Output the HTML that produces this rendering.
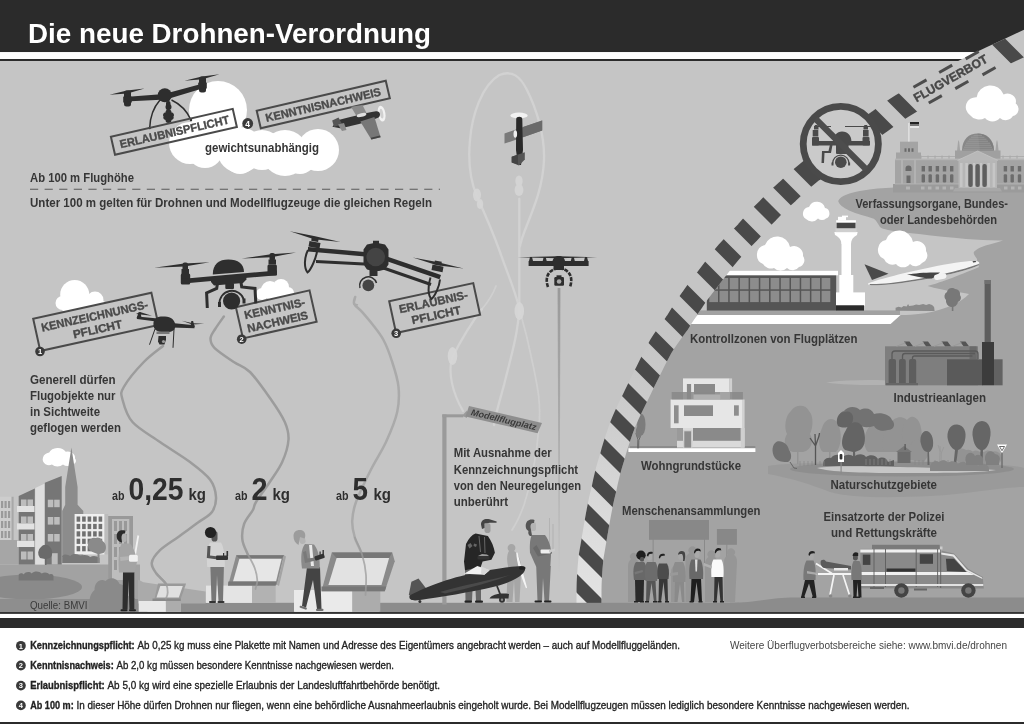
<!DOCTYPE html>
<html lang="de">
<head>
<meta charset="utf-8">
<title>Die neue Drohnen-Verordnung</title>
<style>
html,body{margin:0;padding:0;background:#fff;}
body{width:1024px;height:724px;overflow:hidden;font-family:"Liberation Sans",sans-serif;}
svg{display:block;filter:grayscale(1);}
text{font-family:"Liberation Sans",sans-serif;}
.b{font-weight:bold;}
.lbl{font-weight:bold;font-size:12.5px;fill:#363636;}
.stamp{font-weight:bold;font-size:11.5px;fill:#4a4a4a;stroke:#4a4a4a;stroke-width:0.35px;}
.ft{font-size:10.5px;fill:#222;stroke:#222;stroke-width:0.32px;}
</style>
</head>
<body>
<svg width="1024" height="724" viewBox="0 0 1024 724">
<defs>
  <linearGradient id="bandg" gradientUnits="userSpaceOnUse" x1="0" y1="603" x2="0" y2="60">
    <stop offset="0" stop-color="#e3e3e3"/>
    <stop offset="0.116" stop-color="#dddddd"/>
    <stop offset="0.2265" stop-color="#d5d5d5"/>
    <stop offset="0.337" stop-color="#cdcdcd"/>
    <stop offset="0.4475" stop-color="#c7c7c7"/>
    <stop offset="0.503" stop-color="#c5c5c5"/>
    <stop offset="1" stop-color="#c5c5c5"/>
  </linearGradient>
  <linearGradient id="poleg" gradientUnits="userSpaceOnUse" x1="0" y1="288" x2="0" y2="575">
    <stop offset="0" stop-color="#9a9a9a"/>
    <stop offset="0.4" stop-color="#a8a8a8"/>
    <stop offset="0.8" stop-color="#b8b8b8"/>
    <stop offset="1" stop-color="#c5c5c5"/>
  </linearGradient>
  <path id="bandc" d="M1040,36 L1008,51 C975,66 935,86 902,106 C894,111 887,116 879,122 C855,139 834,154 812,170 C803,177 795,184 787,192 C780,198 774,204 767.5,211 C760,218 754,225 747.5,232.5 C741,239 734,246 728,253 C722,260 716,268 710,276 C704,284 698,291 692.5,299.5 C687,307 682,315 677.5,322.5 C672,330 666,338 661,346 C656,355 652,363 647.5,372.5 C643,381 639,390 634.5,399 C630,408 626,416 622.5,425 C619,435 615,446 612.5,456 C609,467 606,478 604,489 C601,500 599,511 597,522.5 C595,534 593,546 591,557.5 C590,568 589,579 589,590 L589,606"/>
  <mask id="bandm" maskUnits="userSpaceOnUse" x="500" y="0" width="524" height="724">
    <use href="#bandc" fill="none" stroke="#fff" stroke-width="25"/>
  </mask>
  <clipPath id="mainclip"><rect x="0" y="0" width="1024" height="613.900"/></clipPath>
</defs>

<!-- ===== BACKGROUND ===== -->
<rect x="0" y="0" width="1024" height="724" fill="#fff"/>
<rect x="0" y="60" width="1024" height="553" fill="#c5c5c5"/>

<!-- ===== RIGHT ZONE GROUND ===== -->
<g id="zone" clip-path="url(#mainclip)">
  <!-- dark ground of forbidden zone -->
  <path fill="#a3a3a3" d="M589,606 L589,590 C589,579 590,568 591,557.5 C593,546 595,534 597,522.5 C599,511 601,500 604,489 C606,478 609,467 612.5,456 C615,446 619,435 622.5,425 C626,416 630,408 634.5,399 C639,390 643,381 647.5,372.5 C652,363 656,355 661,346 C666,338 672,330 677.5,324 L890.5,324 L900.5,315 C915,315 928,313.5 936,310.8 C948,307.5 960,303 969,294 C960,292 944,291 927.7,286 C940,283 965,273 979,267 C978,264 977,262 977,259 C975,256 973,254 974,251.8 C977,249 981,247 985.6,245.6 C992,243.5 998,242 1003,240.4 C990,240.5 978,240 966,239 C950,237.5 935,236 919,234 C905,232.5 895,231.5 888,230 C884,229 881.5,228.5 880,227 C878,224 877,221 873.8,218.7 C866,216 857,214 849,210.4 C843,207.5 839,204.5 838.2,201 C840,196 850,192.5 861.4,190.7 C872,189 883,188 894.5,187.6 L1024,187 L1024,606 Z"/>
  <!-- slightly darker wavy shading under nature reserve -->
  <path fill="#9a9a9a" d="M768,466 C800,460 1000,460 1024,468 L1024,487 C1000,487 970,494 930,496 C890,498 850,498 830,492 C810,484 790,478 768,474 Z"/>

</g>

<!-- ===== SCENE RIGHT ===== -->
<g id="right" clip-path="url(#mainclip)">
  <!-- clouds right -->
  <g fill="#fff">
    <path d="M969,118 a11,11 0 0 1 7,-20 a15,15 0 0 1 29,-3 a9,9 0 0 1 13,10 a8,8 0 0 1 -3,14 a9,9 0 0 1 -14,2 a10,10 0 0 1 -16,0 a12,12 0 0 1 -16,-3z" transform="translate(992,103.500) scale(0.930,0.900) translate(-992.500,-105)"/>
    <path d="M806,219 a6.5,6.5 0 0 1 3,-12 a8.5,8.5 0 0 1 16,1 a5.5,5.5 0 0 1 1,10.5 a6,6 0 0 1 -8,0 a8,8 0 0 1 -12,0.5z"/>
    <path d="M763,264 a10,10 0 0 1 2,-19 a13,13 0 0 1 25,2 a9,9 0 0 1 13,9 a7,7 0 0 1 -4,11 a8,8 0 0 1 -12,1 a9,9 0 0 1 -13,0 a9,9 0 0 1 -11,-4z"/>
    <path d="M884,259 a10,10 0 0 1 2,-19 a14,14 0 0 1 27,2 a9,9 0 0 1 13,9 a8,8 0 0 1 -4,12 a8,8 0 0 1 -12,1 a9,9 0 0 1 -14,0 a9,9 0 0 1 -12,-5z"/>
  </g>

  <!-- Reichstag -->
  <g>
    <rect x="908.3" y="123" width="1.2" height="19" fill="#e8e8e8"/>
    <rect x="910" y="122" width="9" height="2" fill="#222"/><rect x="910" y="124" width="9" height="2" fill="#777"/><rect x="910" y="126" width="9" height="2" fill="#e8e8e8"/>
    <rect x="900" y="141.7" width="18" height="16" fill="#a4a4a4"/>
    <rect x="896" y="152.5" width="25" height="8" fill="#a4a4a4"/>
    <rect x="904.5" y="148.3" width="2" height="3.5" fill="#6a6a6a"/><rect x="908" y="148.3" width="2" height="3.5" fill="#6a6a6a"/><rect x="911.5" y="148.3" width="2" height="3.5" fill="#6a6a6a"/>
    <!-- dome -->
    <path d="M962,151 C962,139 969,133.5 977.7,133.5 C986,133.5 994,139 994,151 Z" fill="#888"/>
    <path d="M977.7,133.5 C986,133.5 994,139 994,151 L980,151 Z" fill="#787878" opacity="0.600"/>
    <path d="M964,147.200h28M963,149.200h30M965,145.200h26M966,143.200h24M967.500,141.200h20.500M969,139.200h17.500M971,137.200h13.500M973.500,135.300h8.500" stroke="#a2a2a2" stroke-width="0.700" fill="none"/>
    <path d="M957,151 l1,-9 l0.6,-2 l0.6,2 l1,9z M995.4,151 l1,-9 l0.6,-2 l0.6,2 l1,9z" fill="#a4a4a4"/>
    <rect x="955" y="150.5" width="45.5" height="10" fill="#a0a0a0"/>
    <!-- main body -->
    <rect x="895" y="160" width="129" height="24.5" fill="#a4a4a4"/>
    <rect x="895" y="158.6" width="129" height="1.6" fill="#b4b4b4"/>
    <path d="M921,158.6v-3M928,158.6v-3M935,158.6v-3M942,158.6v-3M949,158.6v-3M1003,158.6v-3M1010,158.6v-3M1017,158.6v-3" stroke="#a4a4a4" stroke-width="1"/>
    <path d="M921,156.5h34M1000,156.5h24" stroke="#a8a8a8" stroke-width="0.8"/>
    <rect x="893" y="184" width="131" height="8.5" fill="#9b9b9b"/>
    <rect x="895" y="183.3" width="129" height="1.2" fill="#b0b0b0"/>
    <g fill="#b4b4b4"><rect x="906" y="186.5" width="4" height="3"/><rect x="921" y="186.5" width="3.5" height="3"/><rect x="928" y="186.5" width="3.5" height="3"/><rect x="935.5" y="186.5" width="3.5" height="3"/><rect x="942.5" y="186.5" width="3.5" height="3"/><rect x="950" y="186.5" width="3.5" height="3"/><rect x="1004" y="186.5" width="3.5" height="3"/><rect x="1011" y="186.5" width="3.5" height="3"/><rect x="1018" y="186.5" width="3.5" height="3"/></g>
    <!-- pilasters left tower -->
    <rect x="901" y="160" width="2" height="24" fill="#b2b2b2"/><rect x="914" y="160" width="2" height="24" fill="#b2b2b2"/>
    <path d="M905.5,171 v-2.5 a3,3 0 0 1 6,0 v2.5z" fill="#6a6a6a"/><rect x="906.5" y="175.5" width="4" height="7.5" fill="#6a6a6a"/>
    <g fill="#6c6c6c">
      <rect x="921.6" y="166" width="3.4" height="5.5"/><rect x="928.5" y="166" width="3.4" height="5.5"/><rect x="935.7" y="166" width="3.4" height="5.5"/><rect x="942.8" y="166" width="3.4" height="5.5"/><rect x="950" y="166" width="3.4" height="5.5"/>
      <rect x="921.6" y="174.3" width="3.4" height="8.2" rx="1.2"/><rect x="928.5" y="174.3" width="3.4" height="8.2" rx="1.2"/><rect x="935.7" y="174.3" width="3.4" height="8.2" rx="1.2"/><rect x="942.8" y="174.3" width="3.4" height="8.2" rx="1.2"/><rect x="950" y="174.3" width="3.4" height="8.2" rx="1.2"/>
      <rect x="1003.7" y="166" width="3.4" height="5.5"/><rect x="1010.5" y="166" width="3.4" height="5.5"/><rect x="1017.8" y="166" width="3.4" height="5.5"/>
      <rect x="1003.7" y="174.3" width="3.4" height="8.2" rx="1.2"/><rect x="1010.5" y="174.3" width="3.4" height="8.2" rx="1.2"/><rect x="1017.8" y="174.3" width="3.4" height="8.2" rx="1.2"/>
    </g>
    <!-- portico -->
    <rect x="958.5" y="160" width="38.5" height="28" fill="#b6b6b6"/>
    <path d="M957.5,160.4 L977.7,151 L998,160.4 Z" fill="#b8b8b8"/>
    <path d="M957.5,160.4 L977.7,151 L998,160.4" fill="none" stroke="#c4c4c4" stroke-width="0.8"/>
    <g fill="#c6c6c6"><rect x="960" y="163" width="2.6" height="24"/><rect x="965.3" y="163" width="2.6" height="24"/><rect x="973" y="163" width="2.2" height="24"/><rect x="980" y="163" width="2.2" height="24"/><rect x="987.3" y="163" width="2.6" height="24"/><rect x="992.6" y="163" width="2.6" height="24"/></g>
    <g fill="#5e5e5e"><rect x="968.3" y="164" width="4.4" height="23" rx="2"/><rect x="975.4" y="164" width="4.4" height="23" rx="2"/><rect x="982.4" y="164" width="4.4" height="23" rx="2"/></g>
    <path d="M955,188h45l2,3.5h-49z" fill="#a8a8a8"/>
  </g>

  <!-- airport -->
  <g>
    <rect x="692" y="310.4" width="208" height="5" fill="#a2a2a2"/>
    <path d="M697.5,315 L900.5,315 L890.5,324 L690,324 Z" fill="#fff"/>
    <rect x="706.8" y="275" width="129.4" height="35.6" fill="#555"/>
    <rect x="726" y="270.8" width="112" height="4.5" fill="#fff"/>
    <g fill="#8c8c8c">
<rect x="709.3" y="278" width="8.7" height="11.3"/><rect x="719.5" y="278" width="8.7" height="11.3"/><rect x="729.7" y="278" width="8.7" height="11.3"/><rect x="739.9" y="278" width="8.7" height="11.3"/><rect x="750.1" y="278" width="8.7" height="11.3"/><rect x="760.3" y="278" width="8.7" height="11.3"/><rect x="770.6" y="278" width="8.7" height="11.3"/><rect x="780.8" y="278" width="8.7" height="11.3"/><rect x="791.0" y="278" width="8.7" height="11.3"/><rect x="801.2" y="278" width="8.7" height="11.3"/><rect x="811.4" y="278" width="8.7" height="11.3"/><rect x="821.6" y="278" width="8.7" height="11.3"/>
<rect x="709.3" y="290.8" width="8.7" height="11.3"/><rect x="719.5" y="290.8" width="8.7" height="11.3"/><rect x="729.7" y="290.8" width="8.7" height="11.3"/><rect x="739.9" y="290.8" width="8.7" height="11.3"/><rect x="750.1" y="290.8" width="8.7" height="11.3"/><rect x="760.3" y="290.8" width="8.7" height="11.3"/><rect x="770.6" y="290.8" width="8.7" height="11.3"/><rect x="780.8" y="290.8" width="8.7" height="11.3"/><rect x="791.0" y="290.8" width="8.7" height="11.3"/><rect x="801.2" y="290.8" width="8.7" height="11.3"/><rect x="811.4" y="290.8" width="8.7" height="11.3"/><rect x="821.6" y="290.8" width="8.7" height="11.3"/>
    </g>
    <!-- tower -->
    <rect x="836" y="292.4" width="29" height="13.2" fill="#fff"/>
    <rect x="836" y="305.3" width="28" height="5.3" fill="#2b2b2b"/>
    <rect x="839.3" y="275" width="14" height="18" fill="#fff"/>
    <rect x="841.5" y="238" width="9.5" height="40" fill="#fff"/>
    <path d="M834.4,232 L857.6,232 L857,235 C853,237 851,240 851,244 L841.5,244 C841.5,240 839,237 835,235 Z" fill="#fff"/>
    <rect x="835.5" y="228" width="21" height="4.2" fill="#cfcfcf"/>
    <rect x="836.7" y="222.4" width="18.7" height="5.8" fill="#444"/>
    <rect x="836.2" y="220.2" width="19.7" height="2.4" fill="#fff"/>
    <rect x="838" y="216.8" width="8" height="3.6" fill="#fff"/>
    <rect x="842" y="215.6" width="6" height="1.6" fill="#fff"/>
  </g>

  <!-- distant skyline + tree -->
  <path d="M895.6,310.8 v-3 l3,-1 l3,0.6 l2,-1.4 l3,0.6 l1.5,-2.5 l1,2 l4,-0.6 l3,-1 l3,0.6 l4,-1 l3,0.8 l3,-1 l3,1 l2,2 l0.5,4z" fill="#8a8a8a"/>
  <g fill="#787878">
    <rect x="951.8" y="300" width="1.6" height="11"/>
    <path d="M946,300 a5,5 0 0 1 1,-8 a5,5 0 0 1 8,-3 a5,5 0 0 1 5,6 a4.5,4.5 0 0 1 -2,7 a6,6 0 0 1 -12,-2z"/>
  </g>

  <!-- plane -->
  <g>
    <path d="M864.5,264.2 L888.5,273.8 L872,280 Z" fill="#4a4a4a"/>
    <path d="M869,283 C880,279 905,272.5 930,267.5 C950,263 968,260.5 976,261 C980,261.5 980.5,264 977,266 C965,271 940,277 915,281 C895,284.5 880,285.5 872,285.3 C868,285.2 867,283.8 869,283 Z" fill="#f4f4f4"/>
    <path d="M872,285.3 C880,285.5 895,284.5 915,281 C940,277 965,271 977,266 C978.5,265.2 979.3,264.3 979.4,263.5 C970,268 940,275.5 915,279.5 C895,283 880,284.3 869.5,284 C869.5,284.8 870.4,285.2 872,285.3Z" fill="#777"/>
    <path d="M907,274.6 C916,273 930,272 940,272.6 L932,278.6 C926,278.8 918,277 907,274.6Z" fill="#444"/>
    <rect x="934" y="273.8" width="12.5" height="5.6" rx="2.8" fill="#f2f2f2" transform="rotate(-11 940 276.6)"/>
    <path d="M972.5,261.3l3,-0.2l0.8,1l-3.2,0.5z" fill="#333"/>
  </g>

  <!-- factory -->
  <g>
    <path d="M826,382.500 C845,380 870,379.500 886,380.500 L886,385 C870,385 845,385.500 826,382.500Z" fill="#b2b2b2"/>
    <rect x="984.6" y="280" width="6.2" height="64" fill="#5e5e5e"/>
    <rect x="984.6" y="280" width="6.2" height="4" fill="#707070"/>
    <rect x="885" y="346.3" width="93" height="39" fill="#7e7e7e"/>
    <path d="M904,341.5h5.5l3.5,4.8h-5.5zM922.5,341.5h5.5l3.5,4.8h-5.5zM941.5,341.5h6l3.5,4.8h-6zM960,341.5h5.5l3.5,4.8h-5.5z" fill="#555"/>
    <path d="M896.5,346.3l9,-3.5M915,346.3l9,-3.5M934,346.3l9,-3.5M952.5,346.3l9,-3.5" stroke="#9a9a9a" stroke-width="1"/>
    <rect x="969.5" y="346.3" width="7.2" height="13" fill="#6a6a6a"/>
    <path d="M892,360 v-6 a3,3 0 0 1 3,-3 h80 a3,3 0 0 1 3,3 v5 M902.5,360 v-4 a2.5,2.5 0 0 1 2.5,-2.500 h70 M912.5,360 v-2 a2,2 0 0 1 2,-2 h58" fill="none" stroke="#5a5a5a" stroke-width="1.3"/>
    <rect x="888.6" y="359" width="7.4" height="25.5" rx="2" fill="#5e5e5e"/><rect x="899" y="359" width="6.8" height="25.5" rx="2" fill="#5e5e5e"/><rect x="909" y="359" width="7.2" height="25.5" rx="2" fill="#5e5e5e"/>
    <rect x="886" y="383" width="32" height="2.2" fill="#666"/>
    <rect x="947" y="359.3" width="35.5" height="26" fill="#5a5a5a"/>
    <rect x="982" y="342" width="12" height="43.3" fill="#3c3c3c"/>
    <rect x="994" y="359.3" width="8.6" height="26" fill="#626262"/>
  </g>

  <!-- house -->
  <g>
    <rect x="630" y="446" width="125.300" height="2.5" fill="#8c8c8c"/>
    <rect x="628.4" y="448.2" width="127" height="3.800" fill="#fff"/>
    <!-- tree -->
    <path d="M637.6,448.300 l0.300,-9 l-2,-6 M638.600,448.300 l0.200,-8 l2.400,-6" stroke="#666" stroke-width="1" fill="none"/>
    <ellipse cx="641.300" cy="424.500" rx="4.200" ry="10.800" fill="#7c7c7c"/>
    <ellipse cx="638.800" cy="432" rx="3" ry="6" fill="#7c7c7c"/>
    <!-- top floor -->
    <rect x="683" y="378.400" width="46.500" height="21" fill="#e6e6e6"/><rect x="729.500" y="378.400" width="2.600" height="21" fill="#cfcfcf"/>
    <rect x="694" y="384" width="21" height="10.400" fill="#8a8a8a"/>
    <rect x="686.900" y="384" width="4.200" height="15.400" fill="#8a8a8a"/>
    <!-- first floor -->
    <rect x="670.600" y="399.500" width="71.500" height="28.500" fill="#e6e6e6"/><rect x="742" y="399.500" width="2.600" height="28.500" fill="#d2d2d2"/>
    <!-- railing -->
    <rect x="671.700" y="392" width="71.200" height="7.400" fill="#888" opacity="0.85"/>
    <rect x="693.500" y="394.500" width="27" height="4.900" fill="#b6b6b6" opacity="0.8"/>
    <rect x="720" y="392" width="10" height="7.400" fill="#a8a8a8" opacity="0.8"/>
    <rect x="684" y="405.300" width="29" height="10.700" fill="#8a8a8a"/>
    <rect x="674" y="405.300" width="4.600" height="18" fill="#8e8e8e"/>
    <rect x="734" y="405.300" width="4.800" height="10.400" fill="#8e8e8e"/>
    <!-- ground floor -->
    <rect x="677" y="428" width="67.600" height="19.600" fill="#dadada"/>
    <rect x="677" y="428" width="6" height="12.800" fill="#9a9a9a"/>
    <rect x="693" y="428" width="47.800" height="12.800" fill="#8a8a8a"/>
    <rect x="740.800" y="428" width="3.800" height="19.600" fill="#cfcfcf"/>
    <rect x="683" y="430" width="9.400" height="17.600" fill="#d0d0d0"/>
    <rect x="684.300" y="431.300" width="6.800" height="16.300" fill="#8c8c8c"/>
  </g>

  <!-- nature reserve -->
  <g>
    <!-- light background trees -->
    <g fill="#939393">
      <path d="M793,452 C784,450 783,440 787,434 C784,428 785,416 791,411 C795,404 806,404 809,411 C814,416 813,428 810,434 C814,440 812,450 803,452 Z"/>
      <path d="M823,452 C818,448 818,436 822,428 C825,418 834,416 838,424 C842,432 842,446 836,452Z"/>
      <path d="M868,452 C862,446 864,432 870,426 C876,418 886,420 890,428 C896,436 894,448 888,452Z"/>
      <path d="M884,452 C880,444 884,430 890,424 C896,414 906,416 910,424 C916,434 914,446 908,452Z"/>
      <path d="M903,440 C900,432 904,422 909,418 C914,414 920,420 921,428 C923,436 920,444 914,446Z"/>
      <path d="M910,460 C906,452 910,442 916,440 C922,438 928,446 928,456 L924,462Z"/>
      <rect x="797" y="446" width="1.5" height="18"/><rect x="829" y="446" width="1.500" height="18"/>
      <path d="M939.500,465 l0.500,-14 l-2,-6 M941,465 l0.300,-12 l2.500,-6 M940.300,452 l-0.300,-6" stroke="#9a9a9a" stroke-width="1" fill="none"/>
      <path d="M958,462 a6,7 0 0 1 8,-12 a6,6 0 0 1 4,12z M972,464 a6,7 0 0 1 8,-12 a6,6 0 0 1 4,12z M984,464 a6,7 0 0 1 8,-12 a6,6 0 0 1 6,12z"/>
    </g>
    <!-- ground ellipse + pond -->
    <ellipse cx="902" cy="469" rx="112" ry="7.500" fill="#8e8e8e"/>
    <path d="M817,468 C830,465.500 860,466 900,467 C940,468 980,468.500 996,470 C980,473 940,473 900,473 C860,473 830,472 817,468Z" fill="#c6c6c6"/>
    <!-- dark bush left -->
    <path d="M775,458 C771,452 772,444 777,441.500 C782,440 788,444 789,450 C792,454 792,460 788,462 C784,462 778,462 775,458Z" fill="#707070"/>
    <path d="M790,462 l4,6 l3,0.500" stroke="#666" stroke-width="1" fill="none"/>
    <!-- bare tree -->
    <path d="M815.500,465 L815.500,446 L810,438 M815.500,446 L815,434 M815.500,446 L819,436 l0.500,-3" stroke="#555" stroke-width="1.300" fill="none"/>
    <!-- dark cluster -->
    <path d="M843,424 C838,420 838,412 844,411 C848,406 856,406 860,410 C866,407 872,409 874,414 C880,412 890,414 892,420 C896,424 894,430 888,430 C882,432 876,430 874,426 C868,428 862,428 858,424 C852,428 846,428 843,424Z" fill="#727272"/>
    <path d="M838,426 C835,420 838,412 845,412 C850,410 854,414 853,420 C852,426 846,430 838,426Z" fill="#646464"/>
    <path d="M845,450 C840,446 842,436 846,430 C850,420 860,420 863,428 C866,436 866,446 860,450 L855,452 L856,465 L853,465 L853,452 Z" fill="#646464"/>
    <path d="M921,444 C919,438 922,431 926,431 C931,431 934,438 933,446 C932,450 930,452 929,452 L929.500,465 L927.500,465 L927.500,452 C924,452 922,448 921,444Z" fill="#686868"/>
    <path d="M948,440 C946,432 950,424 957,424.500 C964,425 967,432 965,440 C964,446 960,450 958,450 L956,465 L953.500,465 L955,450 C951,448 949,444 948,440Z" fill="#666"/>
    <path d="M973,438 C971,430 975,421 982,421 C989,421 992,430 990,438 C989,446 985,450 983,450 L982.500,465 L980,465 L980.500,450 C976,448 974,444 973,438Z" fill="#666"/>
    <path d="M823,465 c0,-5 3,-8 8,-7 c3,-4 9,-4 12,-1 c3,-3 8,-3 11,0 c4,-4 10,-3 12,0 c4,-3 10,-2 12,2 c4,-3 9,-1 10,3 l6,-2 l0,6 l-71,0z" fill="#606060"/>
    <path d="M930,466 c2,-5 6,-6 9,-4 c3,-3 8,-2 9,1 c3,-3 8,-2 10,1 c4,-4 9,-2 10,1 c4,-3 9,-2 10,1 c4,-4 10,-2 11,2 l0,3 l-59,0z" fill="#868686"/>
    <path d="M966,462 a5,6 0 0 1 9,-6 a5,5 0 0 1 8,5 l0,4 l-17,0z M986,462 a5,6 0 0 1 9,-8 a5,5 0 0 1 4,8 l0,3 l-13,0z" fill="#808080"/>
    <!-- hut -->
    <path d="M896,452 l8,-6 l8,6z" fill="#777"/><rect x="897.500" y="452" width="13" height="11" fill="#6c6c6c"/><rect x="904.500" y="444" width="1.200" height="6" fill="#555"/>
    <!-- fence -->
    <path d="M800,466 v-5 M804,466 v-5 M808,466 v-5 M812,466 v-5 M820,466 v-5 M824,466 v-5 M866,465 v-6 M870,465 v-6 M874,465 v-6 M878,465 v-6 M882,465 v-6 M886,465 v-6 M890,465 v-6 M915,465 v-5 M919,465 v-5 M923,465 v-5 M935,465 v-5 M944,465 v-5 M948,465 v-5" stroke="#888" stroke-width="0.700"/>
    <!-- owl sign -->
    <rect x="840.500" y="460" width="1.200" height="14" fill="#8a8a8a"/>
    <path d="M838,453 l3,-3 l3,3 v9 h-6z" fill="#fff"/><rect x="839.600" y="454" width="2.800" height="5.500" rx="1" fill="#333"/>
    <!-- triangle sign -->
    <rect x="1001.400" y="452" width="1.200" height="16" fill="#666"/>
    <path d="M997,444.600 h10 l-5,8.600z" fill="#fff"/><path d="M999.500,446.500 h5 l-2.500,4.200z" fill="none" stroke="#444" stroke-width="0.800"/>
  </g>

  <!-- crowd -->
  <g>
    <rect x="652.600" y="539" width="1" height="24" fill="#8a8a8a"/><rect x="704" y="539" width="1" height="24" fill="#8a8a8a"/>
    <rect x="649" y="520" width="60" height="19.800" fill="#888"/>
    <rect x="726.300" y="544" width="1" height="58" fill="#8a8a8a"/>
    <rect x="716.900" y="529" width="20" height="15.800" fill="#888"/>
    <!-- shadow people -->
    <g fill="#969696">
      <path d="M628,602 v-36 c0,-4 2,-6 3,-7 a3.500,3.500 0 1 1 5,0 c2,1 3,3 3,7 v36z"/>
      <path d="M685.500,602 v-42 c0,-4 2,-6 4,-7 a4,4 0 1 1 6,0 c2,1 3,3 3,7 v42z"/>
      <path d="M705,602 v-38 c0,-4 2,-6 3.500,-7 a4,4 0 1 1 6,0 c2,1 3,3 3,7 v38z"/>
      <path d="M724,602 v-40 c0,-4 2,-6 4,-7 a4,4 0 1 1 6,0 c2,1 3,3 3,7 l-2,40z"/>
      <path d="M671,602 v-30 c0,-4 2,-6 4,-7 l0,37z"/>
    </g>
    <!-- p1 afro -->
    <path d="M635.500,602 l-0.500,-22 h9 l-0.500,22z" fill="#2a2a2a"/>
    <path d="M634,580 c-1,-8 -1,-14 2,-18 h8 c3,3 3,10 2,18z" fill="#686868"/>
    <path d="M634.500,572 l8,-2 l0.500,2 l-8,2.500z" fill="#777"/>
    <circle cx="641" cy="555.300" r="4.700" fill="#1e1e1e"/><rect x="640" y="557" width="4" height="4.500" rx="1.500" fill="#555"/>
    <!-- p2 -->
    <path d="M646,602 l0.500,-22 h9 l1,22 h-2.500 l-2.500,-19 l-2.500,19z" fill="#565656"/>
    <path d="M645.500,581 c-1,-8 -1,-15 1.500,-19 h8.500 c2.500,4 2.500,11 1.500,19z" fill="#6c6c6c"/>
    <rect x="647.300" y="553.500" width="4.600" height="7" rx="2.200" fill="#aaa"/><path d="M646.800,556 c0,-4 3,-5 6,-4 l-0.500,2 c-2,-0.500 -3.500,0 -4,2.500z" fill="#222"/>
    <!-- p3 -->
    <path d="M658.500,602 l0.500,-24 h8.500 l0.500,24 h-2.500 l-2,-20 l-2.500,20z" fill="#383838"/>
    <path d="M657.500,579 c-0.500,-7 -0.500,-12 1.500,-15.500 h8 c2,3.500 2.500,8.500 1.500,15.500z" fill="#4c4c4c"/>
    <rect x="659.300" y="555.500" width="4.600" height="7" rx="2.200" fill="#a4a4a4"/><path d="M658.800,558 c0,-4 3,-5 6,-4 l-0.300,2 c-2,-0.500 -4,0 -4.500,2.500z" fill="#222"/>
    <!-- p4 woman -->
    <path d="M674.500,602 l0.500,-22 h9 l0.500,22 h-2.500 l-2,-18 l-2.500,18z" fill="#8a8a8a"/>
    <path d="M673,582 c-0.500,-8 -0.500,-16 2,-20 h8 c2.500,4 3,12 2.500,20z" fill="#8c8c8c"/>
    <path d="M670,573 l8,-1 v3 l-8,1z" fill="#999"/>
    <rect x="678.300" y="553" width="4.600" height="7" rx="2.200" fill="#a8a8a8"/><path d="M678,555 c0,-4 4,-5 6.500,-3 c1,2 1,6 0,9 l-1.500,0 c0.500,-3 0,-6 -1,-7 c-2,0 -3.500,0 -4,1z" fill="#444"/>
    <!-- p5 jacket -->
    <path d="M690.500,602 l1,-24 h9.500 l1,24 h-3 l-2.500,-20 l-2.500,20z" fill="#1e1e1e"/>
    <path d="M689.500,579 c-0.500,-8 -0.500,-15 2,-19.500 h9 c2.500,4.500 3,11.500 2.500,19.500z" fill="#686868"/>
    <path d="M695,559.500 h2.500 l-0.500,12 h-1.500z" fill="#ddd"/>
    <rect x="694.600" y="550.500" width="4.800" height="7.500" rx="2.300" fill="#aaa"/><path d="M694,553 c0,-4 3,-5.500 6,-4 l1,2.500 l-1.500,-0.500 c-2,-0.500 -4,0 -4.500,2.500z" fill="#1e1e1e"/>
    <!-- p6 white shirt -->
    <path d="M714,602 l0.500,-26 h8 l0.500,26 h-2.500 l-2,-21 l-2,21z" fill="#333"/>
    <path d="M711.400,577 c-0.500,-8 0,-14 2,-17.500 h8 c2,3.500 2.500,9.500 2,17.500z" fill="#fafafa"/>
    <path d="M704,563 l8,3 l-0.500,2.500 l-8,-3z" fill="#b0b0b0"/>
    <rect x="715.300" y="550" width="4.800" height="7.500" rx="2.300" fill="#aaa"/><path d="M714.800,552.500 c0,-4 3,-5.500 6,-4 l0.500,2 c-2,-0.500 -5,0 -5.500,3z" fill="#1e1e1e"/>
    <g fill="#222"><rect x="634" y="601" width="4" height="1.600"/><rect x="640" y="601" width="4" height="1.600"/><rect x="645" y="601" width="4" height="1.600"/><rect x="653" y="601" width="4" height="1.600"/><rect x="657.500" y="601" width="4" height="1.600"/><rect x="665" y="601" width="4" height="1.600"/><rect x="689.500" y="601" width="4" height="1.600"/><rect x="698.500" y="601" width="4" height="1.600"/><rect x="713" y="601" width="4" height="1.600"/><rect x="720" y="601" width="4" height="1.600"/></g>
  </g>

  <!-- raised ground right -->
  <path d="M730,614 L730,602.800 C755,602.800 770,597.600 795,597.600 L1024,597.600 L1024,614Z" fill="#8c8c8c"/>

  <!-- ambulance -->
  <g>
    <rect x="872" y="544.800" width="67.700" height="4.500" fill="#7a7a7a"/>
    <rect x="860.300" y="548.900" width="80.600" height="39.500" fill="#8a8a8a"/>
    <path d="M940.700,550.500 L954,553.600 L968.400,569 L982.800,577 L983.800,588.400 L940.700,588.400Z" fill="#8a8a8a"/>
    <rect x="860.300" y="549.500" width="81" height="3" fill="#f0f0f0"/>
    <path d="M860.300,572 h108 l6,3 h-114z" fill="#f0f0f0"/>
    <path d="M941,552.500 L954,554.600 L967,569.500 L982,577.500 L982.500,579 L966,571 L953,556.500 L941,554.500Z" fill="#e6e6e6"/>
    <rect x="886.500" y="568.500" width="29" height="3.200" fill="#333"/>
    <rect x="862.800" y="554.600" width="7.600" height="10.300" fill="#444"/>
    <rect x="919.800" y="554.200" width="13.200" height="9.600" fill="#444"/>
    <path d="M945.900,558.700 L954,558.700 L966.400,572 L946.900,571Z" fill="#444"/>
    <path d="M874,549 v38 M885.500,549 v38 M916.200,549 v38 M937.600,549 v38 M940.700,549 v39" stroke="#5e5e5e" stroke-width="0.900"/>
    <rect x="860.300" y="584" width="123" height="2" fill="#e2e2e2"/>
    <rect x="870" y="587" width="14" height="2" fill="#666"/><rect x="914" y="588.500" width="13" height="2" fill="#666"/>
    <circle cx="901.400" cy="590.500" r="7.200" fill="#444"/><circle cx="901.400" cy="590.500" r="3.200" fill="#777"/>
    <circle cx="968.400" cy="590.500" r="7.200" fill="#444"/><circle cx="968.400" cy="590.500" r="3.200" fill="#777"/>
    <rect x="940" y="546.500" width="2.500" height="3" fill="#ccc"/>
  </g>
  <!-- stretcher + medics -->
  <g>
    <path d="M808.500,574 h43" stroke="#f4f4f4" stroke-width="2"/>
    <path d="M834,575 l-4,20 M843,575 l6.500,20 M816,563.500 l16,10" stroke="#f4f4f4" stroke-width="1.700" fill="none"/>
    <circle cx="830.600" cy="596" r="1.800" fill="#888"/><circle cx="849.900" cy="596" r="1.800" fill="#888"/>
    <path d="M821,560.500 c2,-1.500 4,-1 5,1 l25,4.500 l0,3.500 l-27,-1.500 c-3,-1 -4,-5 -3,-7.500z" fill="#5a5a5a"/>
    <path d="M834,568 h14 v2.500 h-14z" fill="#e8e8e8"/>
    <!-- left medic -->
    <path d="M805,580 l-4,17.500 h3 l5,-14 l4,14 h3.500 l-2.500,-18z" fill="#222"/>
    <path d="M803.500,580 c-0.500,-8 0.500,-15 3,-19.500 h7 c2,4 2.500,11 2,19.500z" fill="#787878"/>
    <path d="M807,571 l11,2 v2 l-11,-1.500z" fill="#aaa"/>
    <rect x="809" y="552.500" width="4.800" height="7.500" rx="2.300" fill="#a8a8a8"/><path d="M808.500,555 c0,-3.500 3,-5 6,-3.500 l0.500,2 c-2,-0.500 -5,0 -5.500,2.500z" fill="#222"/>
    <!-- right medic -->
    <path d="M853,579 l0.500,18.500 h3 l1,-15 l1,15 h3 l-0.500,-18.500z" fill="#222"/>
    <path d="M851.500,580 c-0.500,-8 0,-15 2,-19 h6 c2,4 2.500,11 2,19z" fill="#787878"/>
    <rect x="853" y="553.500" width="4.800" height="7" rx="2.300" fill="#555"/><path d="M852.600,556 c0,-3.500 3,-4.500 5.600,-3 v3z" fill="#222"/>
    <rect x="801" y="596.500" width="4" height="1.500" fill="#222"/><rect x="812" y="596.500" width="4" height="1.500" fill="#222"/><rect x="853" y="596.500" width="7" height="1.500" fill="#222"/>
  </g>

  <!-- labels right -->
  <g class="lbl">
    <text x="855.500" y="208" textLength="152.500" lengthAdjust="spacingAndGlyphs">Verfassungsorgane, Bundes-</text>
    <text x="880" y="223.800" textLength="117" lengthAdjust="spacingAndGlyphs">oder Landesbehörden</text>
    <text x="690" y="342.500" textLength="167.500" lengthAdjust="spacingAndGlyphs">Kontrollzonen von Flugplätzen</text>
    <text x="893.500" y="402" textLength="92.500" lengthAdjust="spacingAndGlyphs">Industrieanlagen</text>
    <text x="641" y="469.500" textLength="100" lengthAdjust="spacingAndGlyphs">Wohngrundstücke</text>
    <text x="830.500" y="488.500" textLength="106.500" lengthAdjust="spacingAndGlyphs">Naturschutzgebiete</text>
    <text x="622" y="514.500" textLength="138.500" lengthAdjust="spacingAndGlyphs">Menschenansammlungen</text>
    <text x="823.500" y="521" textLength="121" lengthAdjust="spacingAndGlyphs">Einsatzorte der Polizei</text>
    <text x="831" y="537" textLength="106" lengthAdjust="spacingAndGlyphs">und Rettungskräfte</text>
  </g>

</g>

<!-- ===== HEADER ===== -->
<rect x="0" y="0" width="1024" height="52.200" fill="#2b2b2b"/>
<rect x="0" y="52.200" width="1024" height="6.900" fill="#fff"/>
<rect x="0" y="59" width="1024" height="2" fill="#2b2b2b"/>
<text x="28" y="43" class="b" font-size="28" fill="#fff" textLength="403" lengthAdjust="spacingAndGlyphs">Die neue Drohnen-Verordnung</text>

<!-- ===== BAND ===== -->
<g id="band" clip-path="url(#mainclip)">
  <use href="#bandc" fill="none" stroke="url(#bandg)" stroke-width="25"/>
  <path d="M985,63 L1024,44 L1024,61.200 L985,61.200Z" fill="#c5c5c5"/>
  <g mask="url(#bandm)" stroke="#494949" stroke-width="13.5" fill="none">
    <path d="M986.0,29.0L1030.0,73.0M880.0,84.0L924.0,128.0M857.0,100.0L901.0,144.0M786.0,152.0L830.0,196.0M765.0,170.0L809.0,214.0M745.5,189.0L789.5,233.0M725.5,210.5L769.5,254.5M706.0,231.0L750.0,275.0M688.0,254.0L732.0,298.0M670.5,277.5L714.5,321.5M655.5,300.5L699.5,344.5M639.0,324.0L683.0,368.0M625.5,350.5L669.5,394.5M612.5,377.0L656.5,421.0M600.5,403.0L644.5,447.0M590.5,434.0L634.5,478.0M582.0,467.0L626.0,511.0M575.0,500.5L619.0,544.5M569.0,535.5L613.0,579.5M567.5,574.0L611.5,618.0"/>

  </g>
</g>

<!-- ===== SIGN + FLUGVERBOT ===== -->
<g id="sign">
  <!-- FLUGVERBOT label on band -->
  <g fill="#4d4d4d">
    <g transform="translate(916.500,102.500) rotate(-29.500)">
      <text x="0" y="0" class="b" font-size="12.300" fill="#474747" stroke="#474747" stroke-width="0.400" textLength="83" lengthAdjust="spacingAndGlyphs">FLUGVERBOT</text>
    </g>
    <g id="fvd"><rect x="-7.500" y="-1.500" width="15" height="3" transform="translate(920,83.600) rotate(-29.500)"/>
    <rect x="-7.500" y="-1.500" width="15" height="3" transform="translate(945.700,68.800) rotate(-29.500)"/>
    <rect x="-7.500" y="-1.500" width="15" height="3" transform="translate(972.200,55.200) rotate(-29.500)"/>
    <rect x="-7.500" y="-1.500" width="15" height="3" transform="translate(935.300,99.300) rotate(-29.500)"/>
    <rect x="-7.500" y="-1.500" width="15" height="3" transform="translate(961.800,84.900) rotate(-29.500)"/>
    <rect x="-7.500" y="-1.500" width="15" height="3" transform="translate(989,71.200) rotate(-29.500)"/></g>
  </g>
  <!-- forbidden sign -->
  <circle cx="840.800" cy="144" r="37.600" fill="#cacaca" stroke="#4a4a4a" stroke-width="6.800"/>
  <g fill="#4a4a4a" stroke="none">
    <!-- rotors -->
    <path d="M814,126 h17 v1 h-17z M845,126 h27 v1 h-27z"/>
    <path d="M814,129.500 h4.500 v-2.500 l-1,-2 h-2.500 l-1,2z M863.500,129.500 h4.500 v-2.500 l-1,-2 h-2.500 l-1,2z"/>
    <rect x="812.700" y="130" width="5.600" height="6.500"/><rect x="863" y="130" width="5.600" height="6.500"/>
    <rect x="812" y="137" width="7" height="8.500" rx="1"/><rect x="862.500" y="137" width="7" height="8.500" rx="1"/>
    <rect x="812" y="141" width="58" height="4.500"/>
    <path d="M833,142.500 c0,-7 4,-11 9,-11 c6,0 9.500,4 9.500,11z"/>
    <rect x="836" y="142" width="12.500" height="12" rx="1"/>
    <path d="M832.500,145 l-1.500,8 h-6.500 l-0.500,10 h-2.500 l0.500,-12 h6.500 l1.500,-6.500z"/>
    <circle cx="840.800" cy="162.200" r="5.800"/>
    <path d="M832.500,163.500 a8.300,8.300 0 0 1 16.600,0" fill="none" stroke="#4a4a4a" stroke-width="1.300"/>
    <rect x="831.500" y="162.500" width="2" height="3"/><rect x="848.100" y="162.500" width="2" height="3"/>
  </g>
  <path d="M815.500,118.700 L866.100,169.300" stroke="#4d4d4d" stroke-width="6.200"/>

</g>

<!-- ===== SCENE LEFT ===== -->
<g id="left" clip-path="url(#mainclip)">
  <!-- city -->
  <g>
    <path d="M42.800,466 a9,9 0 0 1 4,-15.500 a10,10 0 0 1 18,-1 a8,8 0 0 1 10,9 a5,5 0 0 1 -3,8 a7,7 0 0 1 -10,0 a8,8 0 0 1 -12,0 a6,6 0 0 1 -7,-0.500z" fill="#fff" transform="translate(59.350,456.750) scale(0.920,0.750) translate(-57.850,-456.150)"/>
    <!-- ground -->
    <path d="M0,564.400 H140 V612 H0Z" fill="#a2a2a2"/>
    <!-- far left building -->
    <rect x="0" y="496.700" width="13.700" height="56" fill="#cdcdcd"/>
    <g fill="#9a9a9a"><rect x="1" y="501" width="2.200" height="7"/><rect x="4.500" y="501" width="2.200" height="7"/><rect x="8" y="501" width="2.200" height="7"/><rect x="1" y="511" width="2.200" height="7"/><rect x="4.500" y="511" width="2.200" height="7"/><rect x="8" y="511" width="2.200" height="7"/><rect x="1" y="521" width="2.200" height="7"/><rect x="4.500" y="521" width="2.200" height="7"/><rect x="8" y="521" width="2.200" height="7"/><rect x="1" y="531" width="2.200" height="7"/><rect x="4.500" y="531" width="2.200" height="7"/><rect x="8" y="531" width="2.200" height="7"/><rect x="1" y="541" width="2.200" height="7"/><rect x="4.500" y="541" width="2.200" height="7"/><rect x="8" y="541" width="2.200" height="7"/></g>
    <rect x="11.500" y="496.700" width="2.200" height="56" fill="#a8a8a8"/>
    <rect x="0" y="540" width="18.700" height="24.400" fill="#a6a6a6"/>
    <!-- church -->
    <path d="M71.400,447.500 L77.600,487 L77.600,504.700 L83.300,511 L83.300,557 L62.200,557 L62.200,511 L65.200,504.700 L65.200,487Z" fill="#8c8c8c"/>
    <!-- tall building -->
    <path d="M18.700,496 L34.800,488.500 L34.800,564.400 L18.700,564.400Z" fill="#767676"/>
    <path d="M35.300,488 L44.800,483.500 L44.800,564.400 L35.300,564.400Z" fill="#dedede"/>
    <path d="M44.800,482.800 L61.700,476 L61.700,564.400 L44.800,564.400Z" fill="#767676"/>
    <g fill="#bdbdbd">
      <rect x="21" y="499.500" width="5.500" height="6.500"/><rect x="27.500" y="499.500" width="5.500" height="6.500"/>
      <rect x="21" y="516.500" width="5.500" height="6.800"/><rect x="27.500" y="516.500" width="5.500" height="6.800"/>
      <rect x="21" y="534" width="5.500" height="6.700"/><rect x="27.500" y="534" width="5.500" height="6.700"/>
      <rect x="21" y="551.500" width="5.500" height="8"/><rect x="27.500" y="551.500" width="5.500" height="8"/>
      <rect x="47.800" y="499.700" width="5.500" height="7.500"/><rect x="54.200" y="499.700" width="5.500" height="7.500"/>
      <rect x="47.800" y="517" width="5.500" height="7.600"/><rect x="54.200" y="517" width="5.500" height="7.600"/>
      <rect x="47.800" y="534" width="5.500" height="7.500"/><rect x="54.200" y="534" width="5.500" height="7.500"/>
      <rect x="51.700" y="553.200" width="6" height="11.200"/>
    </g>
    <g fill="#e2e2e2"><rect x="17" y="506" width="17.500" height="6"/><rect x="17" y="523.300" width="17.500" height="6.200"/><rect x="17" y="540.700" width="17.500" height="6.300"/></g>
    <!-- white grid building -->
    <rect x="74.600" y="514" width="30" height="40.400" fill="#efefef"/>
    <rect x="104.500" y="514" width="3.700" height="40.400" fill="#bcbcbc"/>
    <g fill="#707070">
<rect x="76.6" y="516.5" width="3.6" height="5.2"/><rect x="82.1" y="516.5" width="3.6" height="5.2"/><rect x="87.6" y="516.5" width="3.6" height="5.2"/><rect x="93.1" y="516.5" width="3.6" height="5.2"/><rect x="98.6" y="516.5" width="3.6" height="5.2"/>
<rect x="76.6" y="523.9" width="3.6" height="5.2"/><rect x="82.1" y="523.9" width="3.6" height="5.2"/><rect x="87.6" y="523.9" width="3.6" height="5.2"/><rect x="93.1" y="523.9" width="3.6" height="5.2"/><rect x="98.6" y="523.9" width="3.6" height="5.2"/>
<rect x="76.6" y="531.3" width="3.6" height="5.2"/><rect x="82.1" y="531.3" width="3.6" height="5.2"/><rect x="87.6" y="531.3" width="3.6" height="5.2"/><rect x="93.1" y="531.3" width="3.6" height="5.2"/><rect x="98.6" y="531.3" width="3.6" height="5.2"/>
<rect x="76.6" y="538.7" width="3.6" height="5.2"/><rect x="82.1" y="538.7" width="3.6" height="5.2"/><rect x="87.6" y="538.7" width="3.6" height="5.2"/><rect x="93.1" y="538.7" width="3.6" height="5.2"/><rect x="98.6" y="538.7" width="3.6" height="5.2"/>
<rect x="76.6" y="546.1" width="3.6" height="5.2"/><rect x="82.1" y="546.1" width="3.6" height="5.2"/><rect x="87.6" y="546.1" width="3.6" height="5.2"/><rect x="93.1" y="546.1" width="3.6" height="5.2"/><rect x="98.6" y="546.1" width="3.6" height="5.2"/>
    </g>
    <!-- right gray building -->
    <rect x="108.200" y="516" width="24.800" height="64" fill="#999"/>
    <rect x="112" y="519" width="17.300" height="61" fill="#bdbdbd"/>
    <g fill="#999"><rect x="114" y="521" width="3" height="10"/><rect x="119" y="521" width="3" height="10"/><rect x="124" y="521" width="3" height="10"/><rect x="114" y="534" width="3" height="10"/><rect x="119" y="534" width="3" height="10"/><rect x="124" y="534" width="3" height="10"/><rect x="114" y="547" width="3" height="10"/><rect x="119" y="547" width="3" height="10"/><rect x="124" y="547" width="3" height="10"/><rect x="114" y="560" width="3" height="10"/><rect x="119" y="560" width="3" height="10"/><rect x="124" y="560" width="3" height="10"/></g>
    <!-- hedge + trees -->
    <path d="M62.200,563 v-7 c3,-3 6,-1 8,0 c3,-3 8,-2 10,0 c4,-2 8,-1 10,1 c3,-2 7,-1 9.300,1 v5z" fill="#787878"/>
    <path d="M92.500,552 a6,7 0 0 1 3,-14 a5,5 0 0 1 7,3 a6,7 0 0 1 1,12 l-4,1 v9 h-2 v-9z" fill="#8a8a8a"/>
    <path d="M40,558 a6,7 0 0 1 1,-11 a5.500,5 0 0 1 9,0 a6,7 0 0 1 0,11 l-3.500,1 v6 h-1.500 v-6z" fill="#6a6a6a"/>
    <!-- lawn -->
    <ellipse cx="30" cy="587" rx="52" ry="12.500" fill="#8a8a8a"/>
    <path d="M18.700,580.500 v-6 c2,-2 4,-1 5,0 c2,-3 6,-3 8,-1 c3,-3 8,-2 10,0 c3,-2 6,-1 8,1 c2,-1 4,0 3.800,2 v4z" fill="#767676"/>
    <!-- strip left bottom -->
    <rect x="0" y="599" width="140" height="13" fill="#8e8e8e"/>
    <!-- bushes by person -->
    <path d="M89.500,612 c-1,-10 0,-18 5,-22 c0,-8 6,-12 11,-9 c5,-5 12,-3 14,3 c6,1 9,6 8,12 c6,0 12,6 14,10 c4,2 6,5 7,8z" fill="#8a8a8a"/>
    <text x="30" y="609.300" font-size="10.600" fill="#3a3a3a" textLength="57.500" lengthAdjust="spacingAndGlyphs">Quelle: BMVI</text>
  </g>

  <!-- plane flight trails (very light) -->
  <g fill="none" stroke="#d4d4d4" stroke-width="2.300" stroke-linecap="round" opacity="0.900">
    <path d="M519.300,199 L519.300,308 C518,335 510,360 504,385 C500,400 496,412 494,425"/>
    <path d="M519.300,308.500 C515,290 508,275 500,252 C492,230 484,212 477,196.600 C470,180 468,160 470,140 C472,115 482,85 499.400,75 C512,70 520,76 527,90 C536,108 545,135 544,160 C543,185 535,205 527,225 C523,235 521,240 520,246"/>
    <path d="M519.300,308.500 C524,325 529,345 533,365 C538,388 541,405 539,425 C537,455 532,480 524,505 C520,516 516,524 512,530" stroke-width="1.700" opacity="0.750"/>
    <path d="M482,309 C472,322 462,338 452,358 C448,372 452,392 463,411" stroke-width="2.200"/>
    <path d="M482,309 C488,302 493,294 496,286" stroke-width="1.700" opacity="0.750"/>
  </g>
  <g fill="#d6d6d6" opacity="0.900">
    <ellipse cx="519" cy="181" rx="3.600" ry="5.500"/><ellipse cx="519" cy="190" rx="4.400" ry="6"/>
    <ellipse cx="477" cy="195" rx="4" ry="6.500"/><ellipse cx="480" cy="204" rx="3.200" ry="5"/>
    <ellipse cx="519.300" cy="311" rx="4.800" ry="9"/>
    <ellipse cx="452.500" cy="356" rx="4.800" ry="9"/>
  </g>
  <!-- drone trails (gray) -->
  <g fill="none" stroke="#9c9c9c" stroke-width="2.500" stroke-linecap="round">
    <path d="M163.0,346.0C159.8,348.7 150.3,355.2 143.8,362.0C137.2,368.8 127.3,380.8 123.8,387.0C120.2,393.2 121.0,393.7 122.5,399.5C124.0,405.3 126.2,414.9 132.5,422.0C138.8,429.1 150.4,435.3 160.0,442.0C169.6,448.7 181.7,455.8 190.0,462.0C198.3,468.2 205.7,473.7 210.0,479.5C214.3,485.3 215.7,491.6 216.0,497.0C216.3,502.4 214.9,507.8 212.0,512.0C209.1,516.2 203.9,518.2 198.4,522.3C192.9,526.4 185.4,531.7 179.0,536.4C172.6,541.1 164.3,546.0 159.8,550.4C155.3,554.8 152.4,558.9 151.8,562.7C151.2,566.5 153.8,569.8 156.2,573.3C158.5,576.8 164.0,580.6 165.9,583.8C167.8,587.0 167.7,590.1 167.7,592.6C167.7,595.1 166.2,597.8 165.9,598.8"/>
    <path d="M223.8,316.6C222.3,318.7 217.4,325.4 215.2,329.0C213.0,332.6 210.6,335.3 210.5,338.4C210.4,341.5 210.5,343.9 214.4,347.8C218.3,351.7 227.8,358.0 233.8,362.0C239.7,366.0 243.8,365.8 250.0,372.0C256.2,378.2 265.2,391.2 271.0,399.5C276.8,407.8 281.8,415.3 284.8,422.0C287.7,428.7 288.9,432.8 288.5,439.5C288.1,446.2 285.4,454.9 282.2,462.0C279.1,469.1 274.1,475.3 269.8,482.0C265.4,488.7 258.8,497.3 256.0,502.0C253.2,506.7 254.9,506.3 252.9,510.0C250.9,513.7 245.8,519.0 244.1,524.0C242.3,529.0 241.8,534.9 242.4,539.9C243.0,544.9 245.6,549.3 247.6,554.0C249.6,558.7 253.1,563.6 254.7,568.0C256.3,572.4 257.2,576.8 257.3,580.3C257.4,583.8 255.8,587.5 255.5,589.0"/>
    <path d="M355.2,297.0C355.0,298.2 353.1,301.5 354.2,304.0C355.3,306.5 359.1,308.6 362.0,311.8C364.9,315.1 368.2,318.8 371.8,323.5C375.4,328.2 380.1,333.6 383.5,340.0C386.9,346.4 389.8,354.2 392.2,362.0C394.8,369.8 397.7,378.7 398.5,387.0C399.3,395.3 399.3,402.8 397.2,412.0C395.2,421.2 390.4,432.4 386.0,442.0C381.6,451.6 376.0,459.5 371.0,469.5C366.0,479.5 359.1,493.4 356.0,502.0C352.9,510.6 352.5,515.1 352.2,521.0C352.0,526.9 353.1,531.8 354.8,537.5C356.4,543.2 360.4,548.8 362.2,555.0C364.1,561.2 365.5,568.3 366.0,575.0C366.5,581.7 365.6,591.7 365.5,595.0" stroke="#aaaaaa"/>
  </g>
  <path d="M355,297 l-1,7 l4,1" fill="none" stroke="#aaaaaa" stroke-width="1.500"/>

  <!-- ground strips -->
  <rect x="180.800" y="602.800" width="114" height="9.500" fill="#8c8c8c"/>
  <rect x="379" y="602.800" width="360" height="9.500" fill="#8c8c8c"/>

  <!-- clouds -->
  <g fill="#fff">
    <circle cx="218" cy="110" r="29"/><circle cx="190" cy="143" r="21"/><circle cx="240" cy="150" r="23"/><circle cx="285" cy="153" r="23"/><circle cx="318" cy="150" r="21"/><circle cx="240" cy="158" r="16"/><circle cx="262" cy="150" r="20"/><circle cx="205" cy="150" r="18"/><circle cx="300" cy="158" r="16"/>
    <circle cx="74.700" cy="294.500" r="14.500"/><circle cx="95" cy="300" r="8.500"/><circle cx="62.500" cy="303" r="7"/><circle cx="85" cy="305" r="10"/><circle cx="102" cy="306" r="5"/><circle cx="70" cy="306" r="9"/>
    <circle cx="270" cy="290" r="9"/><circle cx="281" cy="287" r="8"/><circle cx="262" cy="294" r="6"/><circle cx="288" cy="293" r="6"/><circle cx="276" cy="295" r="8"/>
  </g>

  <!-- top texts -->
  <text x="30" y="182.300" class="lbl" textLength="104" lengthAdjust="spacingAndGlyphs">Ab 100 m Flughöhe</text>
  <path d="M30,189.300 H440" stroke="#5a5a5a" stroke-width="1.100" stroke-dasharray="8.200 6.400" fill="none"/>
  <text x="30" y="207" class="lbl" textLength="402" lengthAdjust="spacingAndGlyphs">Unter 100 m gelten für Drohnen und Modellflugzeuge die gleichen Regeln</text>
  <text x="205" y="152.300" class="lbl" font-size="13" textLength="114" lengthAdjust="spacingAndGlyphs">gewichtsunabhängig</text>

  <!-- drone A (top) -->
  <g fill="#2e2e2e" stroke="none">
    <path d="M109.400,94.800 L127,90.600 L144.500,88.400 L127.500,93.400Z M184.400,80.700 L202,76.400 L219.500,74.300 L202.500,79.200Z"/>
    <rect x="124" y="90.500" width="7" height="16" rx="2.500"/><rect x="123.200" y="96" width="8.600" height="7" rx="1.500"/>
    <rect x="199" y="76.500" width="7" height="16" rx="2.500"/><rect x="198.200" y="82" width="8.600" height="7" rx="1.500"/>
    <path d="M125,97 L164,94 L203,83.500 L204,88 L166,99.500 L125.500,101.500Z"/>
    <circle cx="164.800" cy="95.200" r="7"/>
    <path d="M160,100 C153,108 150,118 149.700,128 M171.500,100 C180,104 187,111 191,120" fill="none" stroke="#2e2e2e" stroke-width="1.500"/>
    <circle cx="149.700" cy="128" r="1.200"/><circle cx="191" cy="120" r="1.200"/>
    <rect x="166" y="101" width="4.500" height="9" rx="2"/><circle cx="168.500" cy="107" r="3"/>
    <path d="M163.500,116.500 a2.500,2.500 0 0 1 2,-4 a3,3 0 0 1 6,0 a2.500,2.500 0 0 1 2,4 a2.500,2.500 0 0 1 -2,3.500 a3,3 0 0 1 -6,0 a2.500,2.500 0 0 1 -2,-3.500z"/>
  </g>

  <!-- stamps top -->
  <g transform="translate(109.700,136) rotate(-12.900)">
    <rect x="1" y="1" width="125" height="18.500" fill="none" stroke="#4a4a4a" stroke-width="2"/>
    <text x="8" y="14.500" class="stamp" textLength="112" lengthAdjust="spacingAndGlyphs">ERLAUBNISPFLICHT</text>
  </g>
  <g transform="translate(255.500,110) rotate(-13.100)">
    <rect x="1" y="1" width="132.500" height="18" fill="#c5c5c5" stroke="#4a4a4a" stroke-width="2"/>
    <text x="8" y="14.300" class="stamp" textLength="118" lengthAdjust="spacingAndGlyphs">KENNTNISNACHWEIS</text>
  </g>
  <circle cx="247.700" cy="123.500" r="5.400" fill="#3a3a3a"/>
  <text x="247.700" y="126.600" font-size="8.500" class="b" fill="#fff" text-anchor="middle">4</text>

  <!-- plane B (top small) -->
  <g>
    <path d="M351,106.800 L362.500,105 L367.500,115 L357.500,117.800Z" fill="#8a8a8a"/>
    <ellipse cx="381.600" cy="113.600" rx="3.800" ry="8" fill="#f2f2f2" transform="rotate(-10 381.600 113.600)"/>
    <ellipse cx="381.600" cy="113.600" rx="1.600" ry="5" fill="#d0d0d0" transform="rotate(-10 381.600 113.600)"/>
    <path d="M332.400,126.800 L337,120.500 C348,117.500 365,113 376,111.200 C380.500,110.800 381,115.500 378.500,117.500 C368,122 350,126.500 340,128.300Z" fill="#333"/>
    <path d="M332.200,120.500 L338.500,117.500 L342,124 L334,127Z" fill="#555"/>
    <path d="M338,124.500 L344,123 L346.500,130 L342,131Z" fill="#8a8a8a"/>
    <path d="M360.300,121.600 L374.400,116.900 L380.600,137.200 L371.300,139.500Z" fill="#777"/>
    <path d="M371.300,139.500 L380.600,137.200 L380.100,135.500 L370.800,137.800Z" fill="#444"/>
    <ellipse cx="361.500" cy="115" rx="5" ry="1.900" fill="#e0e0e0" transform="rotate(-14 361.500 115)"/>
  </g>

  <!-- plane F (vertical) -->
  <g>
    <ellipse cx="519" cy="115.500" rx="8.700" ry="3" fill="#f2f2f2"/>
    <path d="M504.500,133.500 L542.200,120.400 L542.200,130.600 L504.500,143.600Z" fill="#7a7a7a"/>
    <path d="M523,127 L542.200,120.400 L542.200,130.600 L523,137.300Z" fill="#6a6a6a"/>
    <path d="M516.200,119 C516.200,116 522.300,116 522.300,119 L523,150 L521,165 L518,165 L516,150Z" fill="#2a2a2a"/>
    <path d="M511.700,156.700 L524.800,152.300 L524.800,159.600 L519,165.400 L511.700,162.500Z" fill="#555"/>
    <path d="M511.700,156.700 L518,154.600 L518,164.500 L511.700,162.500Z" fill="#444"/>
    <ellipse cx="515.300" cy="134" rx="1.800" ry="3.800" fill="#eee"/>
  </g>

  <!-- stamps lower -->
  <g transform="translate(32,318) rotate(-12.400)">
    <rect x="1" y="1" width="121" height="33" fill="#c5c5c5" stroke="#4a4a4a" stroke-width="2"/>
    <text x="61.500" y="15.500" class="stamp" text-anchor="middle" textLength="109" lengthAdjust="spacingAndGlyphs">KENNZEICHNUNGS-</text>
    <text x="61.500" y="29" class="stamp" text-anchor="middle" textLength="50" lengthAdjust="spacingAndGlyphs">PFLICHT</text>
  </g>
  <g transform="translate(234.700,306.400) rotate(-12.800)">
    <rect x="1" y="1" width="75.500" height="32" fill="#c5c5c5" stroke="#4a4a4a" stroke-width="2"/>
    <text x="38.500" y="15" class="stamp" text-anchor="middle" textLength="62" lengthAdjust="spacingAndGlyphs">KENNTNIS-</text>
    <text x="38.500" y="28.500" class="stamp" text-anchor="middle" textLength="62" lengthAdjust="spacingAndGlyphs">NACHWEIS</text>
  </g>
  <g transform="translate(388,300.500) rotate(-12.200)">
    <rect x="1" y="1" width="86" height="32.500" fill="#c5c5c5" stroke="#4a4a4a" stroke-width="2"/>
    <text x="44" y="15" class="stamp" text-anchor="middle" textLength="70" lengthAdjust="spacingAndGlyphs">ERLAUBNIS-</text>
    <text x="44" y="28.500" class="stamp" text-anchor="middle" textLength="50" lengthAdjust="spacingAndGlyphs">PFLICHT</text>
  </g>
  <g font-size="7.500" class="b" text-anchor="middle">
    <circle cx="40" cy="351.500" r="4.800" fill="#3a3a3a"/><text x="40" y="354.200" fill="#fff">1</text>
    <circle cx="241.700" cy="339.200" r="4.800" fill="#3a3a3a"/><text x="241.700" y="341.900" fill="#fff">2</text>
    <circle cx="396.200" cy="333.300" r="4.800" fill="#3a3a3a"/><text x="396.200" y="336" fill="#fff">3</text>
  </g>

  <!-- drone C (mid) -->
  <g fill="#2e2e2e">
    <path d="M154.200,267.800 L184,263.600 L209.700,262.200 L184.500,266.600Z M241.700,258.500 L271,254.300 L296,252.400 L271.500,257.200Z"/>
    <rect x="182.500" y="262.500" width="5.500" height="8" rx="2"/><rect x="181.500" y="269" width="7.500" height="5"/>
    <rect x="269.500" y="253" width="5.500" height="8" rx="2"/><rect x="268.500" y="259.500" width="7.500" height="5"/>
    <rect x="180.800" y="273.500" width="9.400" height="11" rx="1.500"/><rect x="267.500" y="264.500" width="9.400" height="11" rx="1.500"/>
    <path d="M181,279 L276.900,270.500 L276.900,275.200 L181,283.700Z"/>
    <path d="M212.800,274.500 C212.800,264 219,259.500 228.400,259.500 C238,259.500 244,264 244,272Z"/>
    <path d="M211,277.500 L246.400,274.500 L246.400,279.500 L243,283 L214,285.500 L211,282Z"/>
    <path d="M217.500,283 L216.700,288.400 L206.600,293 L207.300,308" fill="none" stroke="#2e2e2e" stroke-width="3"/>
    <path d="M241,282.200 L241.700,286.900 L255,288.400 L255.800,303.300" fill="none" stroke="#2e2e2e" stroke-width="3"/>
    <rect x="225.300" y="283" width="8.700" height="6" rx="1"/>
    <circle cx="231.600" cy="301" r="8.600"/>
    <path d="M219.500,304.500 A12.500,12.500 0 0 1 244,300" fill="none" stroke="#2e2e2e" stroke-width="1.800"/>
    <rect x="218" y="302" width="3" height="5"/><rect x="242.500" y="298.500" width="3" height="5"/>
  </g>

  <!-- drone D (big) -->
  <g fill="#2e2e2e">
    <path d="M289.800,231.300 L314,236 L340.500,242.100 L314,239.200Z M412.800,257.600 L437,262 L463.600,268.600 L437,265.200Z"/>
    <path d="M309.500,241 l11,2 l-1,5.500 l-11,-2z M432.500,264.500 l11,2.300 l-1,5.500 l-11,-2.300z"/>
    <rect x="311.500" y="237.500" width="7" height="4" transform="rotate(10 315 239.500)"/><rect x="434.500" y="261" width="7" height="4" transform="rotate(10 438 263)"/>
    <path d="M308,247 L365,252 L365,256.400 L308,251.600Z"/>
    <path d="M316,260 L364,262.600 L364,265.600 L316,263Z"/>
    <path d="M387,256.500 L441,275 L439.500,279.200 L385.500,260.700Z"/>
    <path d="M384,266.500 L431.500,283 L430.500,286 L383,269.500Z"/>
    <path d="M367,244.500 l6,-1.200 v-2.600 h6 v2.600 l6,1.200 l3.500,5 v15 l-3.500,5 l-6,1.400 h-6 l-6,-1.400 l-3.500,-5 v-15z"/>
    <circle cx="375.700" cy="257" r="9.300" fill="#444"/>
    <rect x="369.500" y="270" width="8" height="6"/>
    <circle cx="368.300" cy="285.400" r="5.900" fill="#444"/>
    <path d="M360,288 A8.500,8.500 0 0 1 376.500,283" fill="none" stroke="#2e2e2e" stroke-width="1.500"/>
    <path d="M308,250 C304,258 304,268 307.500,272.500 C311,270 316,258 317,251.500" fill="none" stroke="#2e2e2e" stroke-width="2"/>
    <path d="M430.500,277.500 C427.500,286 428,296 431.500,299 C435,296 439.500,286 440,279.500" fill="none" stroke="#2e2e2e" stroke-width="2"/>
  </g>

  <!-- drone E (octocopter on pole) -->
  <g>
    <path d="M557.600,288 L560.400,288 L559.600,575 L558.600,575Z" fill="url(#poleg)"/>
    <g fill="#2e2e2e">
      <path d="M517.500,257.200 L558,256.300 L597.200,257.200 L558,258.200Z"/>
      <rect x="528.600" y="261" width="60" height="5"/>
      <path d="M529,261 l1,-4 h2 l1,4z M542.700,261 l1,-4 h2 l1,4z M570.800,261 l1,-4 h2 l1,4z M584,261 l1,-4 h2 l1,4z"/>
      <path d="M552,266 C552,258 555,256 558.700,256 C563,256 565.500,258 565.500,266Z"/>
      <rect x="553.500" y="266" width="10.500" height="4"/>
      <path d="M548,287 C544,276 550,268.500 559,268.500 C568,268.500 574,276 570,287" fill="none" stroke="#2e2e2e" stroke-width="2.600" stroke-dasharray="4 1.200"/>
      <rect x="554.300" y="277" width="9.700" height="8.700" rx="1.200"/><rect x="556.500" y="275.300" width="5" height="2.500"/>
      <circle cx="559.100" cy="281.500" r="2.300" fill="#aaa"/>
    </g>
  </g>

  <!-- drone B (small) -->
  <g fill="#2e2e2e">
    <path d="M136,314 L140,312 L152,315.800 L140.500,314.500Z M181.600,320.700 L193,323.300 L204.200,323.800 L192.500,324.600Z"/>
    <path d="M136.500,318.200 l2.200,-6 h1.800 l1.200,6.500z M190.500,327 l0.800,-6 h1.800 l1.600,6z"/>
    <path d="M137,316.500 L158,318.500 L160,322 L137,319Z M172,323 L194.500,325.300 L194.500,328.200 L172,327.500Z"/>
    <path d="M153.400,324 C153.400,317 160,316 165,316.600 C171,317 175.300,320 175.300,326 C175.300,331 171,332.500 164,332.200 C157,332 153.400,330 153.400,324Z"/>
    <path d="M155,329 L149.500,344.700 M174,329 L173,347.800" stroke="#2e2e2e" stroke-width="1" fill="none"/>
    <rect x="156.500" y="331.500" width="13" height="2.500" fill="#777"/>
    <path d="M158.500,336 h7.500 v3.500 l-1.500,5 h-5 l-1.500,-3z"/>
    <circle cx="163.500" cy="341.500" r="1.600" fill="#999"/>
  </g>

  <!-- left text block -->
  <g class="lbl">
    <text x="30" y="383.500" textLength="85.500" lengthAdjust="spacingAndGlyphs">Generell dürfen</text>
    <text x="30" y="399.500" textLength="85.500" lengthAdjust="spacingAndGlyphs">Flugobjekte nur</text>
    <text x="30" y="415.500" textLength="70" lengthAdjust="spacingAndGlyphs">in Sichtweite</text>
    <text x="30" y="431.500" textLength="91" lengthAdjust="spacingAndGlyphs">geflogen werden</text>
  </g>
  <g fill="#2e2e2e" class="b">
    <text x="112" y="500" font-size="13" textLength="12.500" lengthAdjust="spacingAndGlyphs">ab</text>
    <text x="128.500" y="500" font-size="31" textLength="55" lengthAdjust="spacingAndGlyphs">0,25</text>
    <text x="188.500" y="500" font-size="17" textLength="17.500" lengthAdjust="spacingAndGlyphs">kg</text>
    <text x="235" y="500" font-size="13" textLength="12.500" lengthAdjust="spacingAndGlyphs">ab</text>
    <text x="251.500" y="500" font-size="31" textLength="16" lengthAdjust="spacingAndGlyphs">2</text>
    <text x="272.500" y="500" font-size="17" textLength="17.500" lengthAdjust="spacingAndGlyphs">kg</text>
    <text x="336" y="500" font-size="13" textLength="12.500" lengthAdjust="spacingAndGlyphs">ab</text>
    <text x="352.500" y="500" font-size="31" textLength="15.500" lengthAdjust="spacingAndGlyphs">5</text>
    <text x="373.500" y="500" font-size="17" textLength="17.500" lengthAdjust="spacingAndGlyphs">kg</text>
  </g>

  <!-- Modellflugplatz pole + sign -->
  <rect x="442.300" y="414.500" width="4.200" height="190" fill="#9a9a9a"/>
  <rect x="442.300" y="414.300" width="21" height="3" fill="#9a9a9a"/>
  <path d="M462,415.800 L467,410.500 L467,418Z" fill="#9a9a9a"/>
  <g transform="translate(469,405.900) rotate(13.200)">
    <path d="M0,0 H75 L73,11 H-1Z" fill="#8e8e8e"/>
    <text x="3.500" y="8.500" font-size="8.800" font-style="italic" class="b" fill="#3a3a3a" textLength="67" lengthAdjust="spacingAndGlyphs">Modellflugplatz</text>
  </g>
  <g class="lbl">
    <text x="453.750" y="457.200" textLength="98" lengthAdjust="spacingAndGlyphs">Mit Ausnahme der</text>
    <text x="453.750" y="473.800" textLength="124.300" lengthAdjust="spacingAndGlyphs">Kennzeichnungspflicht</text>
    <text x="453.750" y="489.600" textLength="127.300" lengthAdjust="spacingAndGlyphs">von den Neuregelungen</text>
    <text x="453.750" y="505.800" textLength="54.300" lengthAdjust="spacingAndGlyphs">unberührt</text>
  </g>

  <path d="M138,579.500 L143.400,582.300 L205.600,591.600 L205.600,603.400 L138,603.400Z" fill="#aaa"/>
  <!-- box 1 (small) -->
  <g>
    <path d="M158,583.500 L186.100,583.500 L180.800,598.700 L154.500,598.700Z" fill="#9a9a9a"/>
    <path d="M160.300,586 L182.800,586 L178.800,597.500 L156.500,597.500Z" fill="#e0e0e0"/>
    <rect x="152.500" y="598.500" width="28.300" height="2.700" fill="#8a8a8a"/>
    <rect x="138.700" y="601" width="27.200" height="10.800" fill="#e8e8e8"/>
    <rect x="165.900" y="601" width="14.900" height="10.800" fill="#acacac"/>
  </g>
  <!-- box 2 (medium) -->
  <g>
    <rect x="206" y="585.600" width="46" height="17.300" fill="#e4e4e4"/>
    <rect x="252" y="585.600" width="23.700" height="17.300" fill="#b2b2b2"/>
    <path d="M236.200,555.300 L284,555.300 L277,584.700 L228.300,584.700Z" fill="#8c8c8c"/>
    <path d="M236.200,555.300 L284,555.300 L281.600,558.800 L239.400,558.800Z" fill="#777"/>
    <path d="M239.400,558.800 L281.600,558.800 L276,581.500 L233,581.500Z" fill="#e6e6e6"/>
    <path d="M228.300,581.500 L276.500,581.500 L275.700,585.700 L228,585.700Z" fill="#777"/>
    <path d="M284,555.300 L286,556.500 L279,586 L277,584.700Z" fill="#a4a4a4"/>
  </g>
  <!-- box 3 (large) -->
  <g>
    <rect x="294" y="590" width="58.300" height="21.800" fill="#eaeaea"/>
    <rect x="352.300" y="590" width="28" height="21.800" fill="#acacac"/>
    <path d="M331.750,552.500 L392.250,552.500 L394.750,561.250 L384.750,591.250 L321.500,591.250Z" fill="#8a8a8a"/>
    <path d="M331.750,552.500 L392.250,552.500 L389.100,558 L336.600,558Z" fill="#777"/>
    <path d="M336.600,558 L389.100,558 L381.500,585 L328.400,585Z" fill="#e2e2e2"/>
    <path d="M321.500,586.500 L386.300,586.500 L384.750,591.250 L321.500,591.250Z" fill="#777"/>
  </g>
  <!-- re-draw trails over boxes (thin) -->
  <g fill="none" stroke="#9c9c9c" stroke-width="1.800" opacity="0.750" stroke-linecap="round">
    <path d="M156.2,573.3C157.8,575.0 164.0,580.6 165.9,583.8C167.8,587.0 167.7,590.1 167.7,592.6C167.7,595.1 166.2,597.8 165.9,598.8"/>
    <path d="M247.6,554.0C248.8,556.3 253.1,563.6 254.7,568.0C256.3,572.4 257.2,576.8 257.3,580.3C257.4,583.8 255.8,587.5 255.5,589.0"/>
    <path d="M354.8,537.5C356.0,540.4 360.4,548.8 362.2,555.0C364.1,561.2 365.5,568.3 366.0,575.0C366.5,581.7 365.6,591.7 365.5,595.0"/>
  </g>

  <!-- person 1 -->
  <g>
    <path d="M138.300,535.500 L134.800,556" stroke="#f2f2f2" stroke-width="1.800" fill="none"/>
    <path d="M123,572 L122.500,609.500 L127.500,609.500 L128.500,580 L129.500,609.500 L134.300,609.500 L134.300,572Z" fill="#2e2e2e"/>
    <path d="M119,572.500 C118,562 118.500,550 121.500,543.500 L130,543.500 C134,548 136.500,556 137,562 L134.500,572.500Z" fill="#a4a4a4"/>
    <path d="M120,557 L131,556 L131.500,559.500 L120.500,561Z" fill="#b4b4b4"/>
    <rect x="129" y="554.800" width="8.800" height="7" rx="1.500" fill="#f0f0f0"/>
    <rect x="121" y="533.500" width="5.500" height="8.500" rx="2.600" fill="#b0b0b0"/>
    <path d="M116.700,536 C116.700,531 121,529.500 125.500,530.800 L125,533.500 C122.500,533 121.500,534.500 121.500,538 L122,542.500 C119,542 116.700,540 116.700,536Z" fill="#2a2a2a"/>
    <rect x="120.500" y="609.300" width="7" height="2" rx="1" fill="#222"/><rect x="129" y="609.300" width="7" height="2" rx="1" fill="#222"/>
  </g>
  <!-- person 2 -->
  <g>
    <path d="M210.400,567 L211.500,601.500 L216,601.500 L217,575 L218.500,601.500 L223,601.500 L223.900,567Z" fill="#777"/>
    <path d="M207.200,567 C206.500,558 207,548 210,542.500 L221,542.500 C224,547 225,558 224.800,567Z" fill="#d4d4d4"/>
    <path d="M207.500,546 L206.800,558 L218,559.500 L218,556.500 L210,555.500 L210.500,546Z" fill="#555"/>
    <rect x="216" y="555.500" width="12" height="4.500" rx="1" fill="#333"/><rect x="226.500" y="551" width="1.600" height="5" fill="#333"/><rect x="223" y="553" width="1.200" height="3" fill="#333"/>
    <rect x="211.500" y="531" width="6" height="10.500" rx="2.800" fill="#555"/>
    <circle cx="210.500" cy="532.500" r="5.600" fill="#222"/>
    <rect x="209" y="601" width="7" height="2" rx="1" fill="#333"/><rect x="217.500" y="601" width="7" height="2" rx="1" fill="#333"/>
  </g>
  <!-- person 3 -->
  <g>
    <path d="M307,567 L302,606 L306,607.500 L313,580 L317,609 L321.500,609 L320,567Z" fill="#444"/>
    <path d="M302,568.500 C300.500,558 301,549 305,544 L314,544.500 C318,549 320,558 319.800,568.500Z" fill="#8a8a8a"/>
    <path d="M309,545 L312,545 L314,566 L311,566Z" fill="#e8e8e8"/>
    <path d="M303,552 L305,563 L316,560.500 L315.500,557.500 L307.500,558.500 L306,551Z" fill="#7a7a7a"/>
    <rect x="314.500" y="555" width="10" height="4.500" rx="1" fill="#333" transform="rotate(-18 319 557)"/><rect x="322.500" y="550" width="1.400" height="5" fill="#333"/><rect x="319.500" y="551.500" width="1.200" height="4" fill="#333"/>
    <rect x="299" y="534" width="6" height="10" rx="2.800" fill="#b4b4b4" transform="rotate(-15 302 539)"/>
    <path d="M293.500,536 C293.500,531 298,529 302.500,530.500 C305.500,532 306,536 304.500,538.500 L300,537 L298.500,545 C295,543 293.500,540 293.500,536Z" fill="#9c9c9c"/>
    <rect x="299.500" y="606.500" width="7.500" height="2.200" rx="1" fill="#707070" transform="rotate(18 303 607.500)"/><rect x="316" y="608.800" width="7.500" height="2.200" rx="1" fill="#707070"/>
  </g>

  <!-- model airfield people -->
  <g>
    <!-- ghost child -->
    <path d="M506.300,602 L508,566 C506.500,560 507,554 509,551 a3.900,3.900 0 1 1 5,0 C518,553 521,560 521.300,568 L519.500,602 L515,602 L514,580 L512.500,602Z" fill="#a6a6a6"/>
    <!-- thin antenna lines -->
    <path d="M549.500,518 V550 M553,524 V551" stroke="#aaa" stroke-width="0.700" fill="none"/>
    <!-- woman -->
    <path d="M536.200,566 L537.500,601 L542,601 L543,578 L544.500,601 L549,601 L550.800,566Z" fill="#787878"/>
    <path d="M530,552.700 C529.500,545 530,538 532,535 L545,535 C549,540 551.100,548 551.100,552.700 L550.300,566.800 L536.200,566.800Z" fill="#787878"/>
    <path d="M533,548 L538,556.500 L552,553.500 L551.500,551 L540.500,552 L536.500,545Z" fill="#6a6a6a"/>
    <rect x="540.600" y="549.500" width="10" height="4" rx="1" fill="#eee"/><path d="M549,550 l6,-1.500 v2.500 l-6,1.500z" fill="#ccc"/>
    <rect x="530.500" y="522" width="5.500" height="9" rx="2.600" fill="#b4b4b4"/>
    <path d="M525.700,526 C525.700,520.500 530,518.500 534.500,520 L534,523 C531.500,522.500 530.500,524 530.500,527 L532,535.500 C530,537.500 527.500,534 528.500,531 C526.500,530 525.700,528 525.700,526Z" fill="#555"/>
    <rect x="534.500" y="600.500" width="7.500" height="2" rx="1" fill="#222"/><rect x="544" y="600.500" width="7.500" height="2" rx="1" fill="#222"/>
    <!-- man legs -->
    <path d="M465,569 L465.500,601 L472,601 L472.500,590 L475.500,590 L476,601 L481,601 L481,566Z" fill="#666"/>
    <rect x="464.500" y="600.500" width="7.500" height="2.200" rx="1" fill="#222"/><rect x="475" y="600.500" width="8" height="2.200" rx="1" fill="#222"/>
    <!-- man jacket -->
    <path d="M464,561.500 L466,544 C469,538 472,534.500 475.600,533.400 L487.900,536 C491.500,541 494,547 494.900,552.700 L491.400,559.800 L482.600,561.500 L480.800,566.800 L465,570.300Z" fill="#262626"/>
    <path d="M479,536 l1.500,16 M484.500,537 l0.500,16" stroke="#777" stroke-width="0.800" fill="none"/>
    <path d="M467.500,545 l3,-2 l2,3 l-3,2.500z M474,543.500 l3,1 l-1,2.500 l-2.500,-1z" fill="#666"/>
    <rect x="477.500" y="556" width="12" height="3.500" rx="1" fill="#333"/><path d="M478,556 l4,-2 l5,0.500 l2,1.500z" fill="#999"/>
    <rect x="484.500" y="523" width="6" height="10" rx="2.800" fill="#9c9c9c"/>
    <path d="M481,524.500 C481,520 485,518.300 489.500,519.300 L496.700,521.500 L496.500,522.800 L490,522.800 L484.500,523.500 L484.500,528 L482,529Z" fill="#444"/>
  </g>

  <!-- RC plane on ground -->
  <g>
    <path d="M516.900,552.700 C519,562 524,578 526.500,587.900 C522,578 517,562 516.900,552.700Z" fill="#f4f4f4" stroke="#f4f4f4" stroke-width="1.200"/>
    <path d="M408.800,595 L411.400,581.700 L418.500,578.600 L426.400,588.800 L420,596Z" fill="#555"/>
    <path d="M409.500,595.500 C420,590 445,579 470,574 C490,569.500 510,566.500 521,566 C525.500,566 526,569 524,572 C520,578 508,583 495,586.500 C470,592.500 440,597 420,600 C413,601 408.500,600.500 409.500,595.500Z" fill="#333"/>
    <path d="M440,592 C460,586 490,580 510,575 C495,581 470,588 445,593.500Z" fill="#4a4a4a"/>
    <path d="M464,573.800 L477.300,565.900 L489.600,570.300 L484.400,574.700Z" fill="#f0f0f0"/>
    <path d="M481.500,566.500 L489.600,570.300 L484.400,574.700 L481,573.500Z" fill="#d8d8d8"/>
    <rect x="519" y="566.500" width="6.500" height="3.200" rx="1.600" fill="#222"/>
    <path d="M497,586 l3.500,9" stroke="#333" stroke-width="1.800" fill="none"/>
    <path d="M489.500,598.500 C492,594.500 500,592.800 509,594 L508.500,598.500Z" fill="#333"/>
    <circle cx="502" cy="599.800" r="3" fill="#333"/><circle cx="502" cy="599.800" r="1.200" fill="#888"/>
    <circle cx="419.900" cy="601.400" r="1.500" fill="#333"/>
  </g>

</g>

<!-- ===== GROUND + FOOTER ===== -->
<rect x="0" y="612" width="1024" height="2" fill="#333"/>
<rect x="0" y="613.900" width="1024" height="4.200" fill="#fff"/>
<rect x="0" y="618" width="1024" height="10" fill="#2b2b2b"/>
<rect x="0" y="722" width="1024" height="2" fill="#2b2b2b"/>
<g id="footer">
  <g font-size="7.500" class="b" text-anchor="middle">
    <circle cx="20.900" cy="645.800" r="4.900" fill="#3a3a3a"/><text x="20.900" y="648.500" fill="#fff">1</text>
    <circle cx="20.900" cy="665.500" r="4.900" fill="#3a3a3a"/><text x="20.900" y="668.200" fill="#fff">2</text>
    <circle cx="20.900" cy="685.600" r="4.900" fill="#3a3a3a"/><text x="20.900" y="688.300" fill="#fff">3</text>
    <circle cx="20.900" cy="705.400" r="4.900" fill="#3a3a3a"/><text x="20.900" y="708.100" fill="#fff">4</text>
  </g>
  <g class="ft">
    <text x="30.200" y="649.300" class="b" textLength="104.500" lengthAdjust="spacingAndGlyphs">Kennzeichnungspflicht:</text>
    <text x="137.500" y="649.300" textLength="542.500" lengthAdjust="spacingAndGlyphs">Ab 0,25 kg muss eine Plakette mit Namen und Adresse des Eigentümers angebracht werden – auch auf Modellfluggeländen.</text>
    <text x="730" y="649.300" fill="#444" stroke="none" textLength="277" lengthAdjust="spacingAndGlyphs">Weitere Überflugverbotsbereiche siehe: www.bmvi.de/drohnen</text>
    <text x="30.200" y="669" class="b" textLength="83.500" lengthAdjust="spacingAndGlyphs">Kenntnisnachweis:</text>
    <text x="116.500" y="669" textLength="277.500" lengthAdjust="spacingAndGlyphs">Ab 2,0 kg müssen besondere Kenntnisse nachgewiesen werden.</text>
    <text x="30.200" y="689.100" class="b" textLength="74.500" lengthAdjust="spacingAndGlyphs">Erlaubnispflicht:</text>
    <text x="107.500" y="689.100" textLength="332.500" lengthAdjust="spacingAndGlyphs">Ab 5,0 kg wird eine spezielle Erlaubnis der Landesluftfahrtbehörde benötigt.</text>
    <text x="30.200" y="708.900" class="b" textLength="43.500" lengthAdjust="spacingAndGlyphs">Ab 100 m:</text>
    <text x="76.500" y="708.900" textLength="833" lengthAdjust="spacingAndGlyphs">In dieser Höhe dürfen Drohnen nur fliegen, wenn eine behördliche Ausnahmeerlaubnis eingeholt wurde. Bei Modellflugzeugen müssen lediglich besondere Kenntnisse nachgewiesen werden.</text>
  </g>

</g>
</svg>
</body>
</html>
